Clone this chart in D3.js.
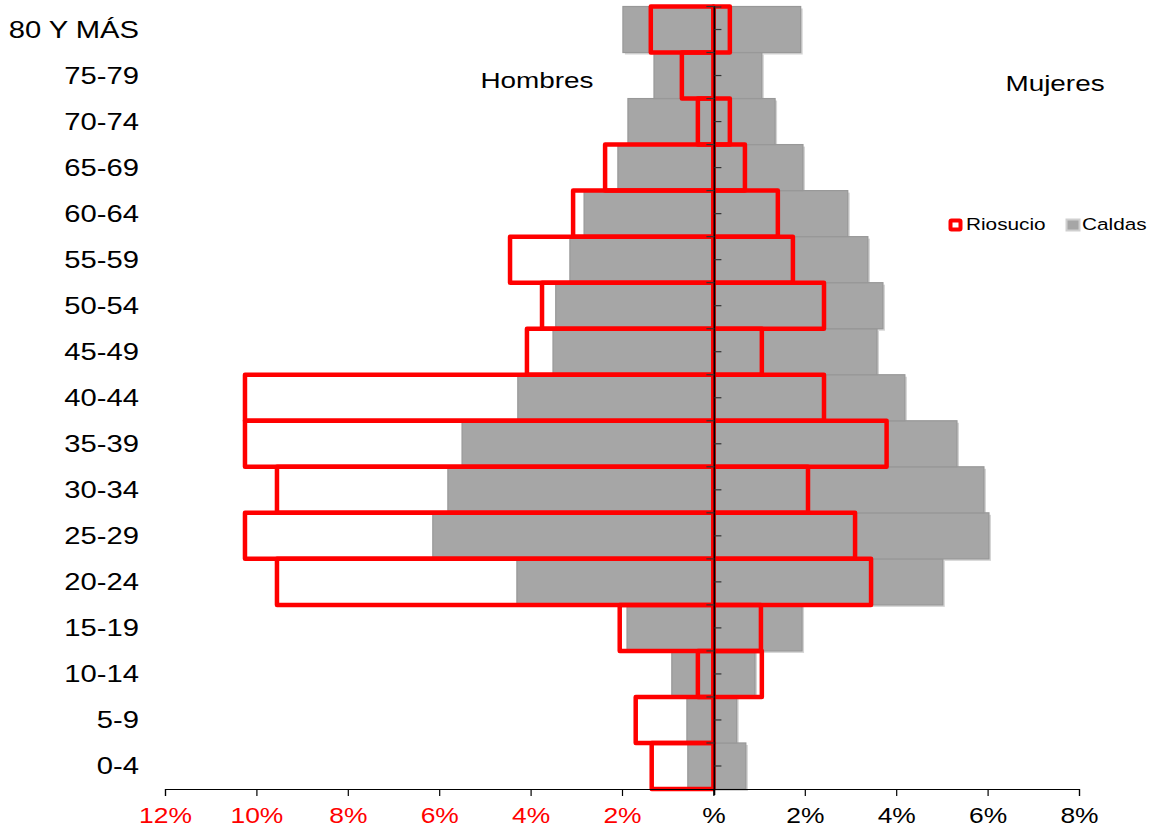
<!DOCTYPE html>
<html>
<head>
<meta charset="utf-8">
<script src="https://cdn.jsdelivr.net/npm/d3@7"></script>
<style>
  body { margin: 0; background: #fff; }
  text { font-family: "Liberation Sans", Arial, sans-serif; }
</style>
</head>
<body>
<div id="chart"></div>
<script>
// age groups, youngest first
var ages = ["0-4", "5-9", "10-14", "15-19", "20-24", "25-29", "30-34", "35-39", "40-44",
            "45-49", "50-54", "55-59", "60-64", "65-69", "70-74", "75-79", "80 Y MÁS"];

// percentages
var caldasHombres   = [0.56, 0.58, 0.91, 1.89, 4.30, 6.14, 5.81, 5.50, 4.28, 3.51, 3.45, 3.14, 2.83, 2.09, 1.87, 1.30, 1.98];
var caldasMujeres   = [0.71, 0.51, 0.91, 1.94, 5.02, 6.03, 5.92, 5.33, 4.19, 3.58, 3.71, 3.38, 2.94, 1.96, 1.35, 1.06, 1.91];
var riosucioHombres = [1.35, 1.70, 0.34, 2.05, 9.55, 10.25, 9.55, 10.25, 10.25, 4.08, 3.75, 4.45, 3.07, 2.37, 0.34, 0.69, 1.37];
var riosucioMujeres = [0, 0, 1.06, 1.04, 3.45, 3.10, 2.07, 3.79, 2.42, 1.06, 2.42, 1.74, 1.41, 0.69, 0.36, 0, 0.36];

var xTicks = [-12, -10, -8, -6, -4, -2, 0, 2, 4, 6, 8];
var legendNames = ["Riosucio", "Caldas"];

var W = 1155, H = 827;
var stretch = 1.24; // the source image is wider than its fonts

var svg = d3.select("#chart").append("svg")
    .attr("width", W)
    .attr("height", H);

var x = d3.scaleLinear().domain([-12, 8]).range([165, 1079]);
var y = d3.scaleBand().domain(ages.slice().reverse()).range([6.5, 789]).padding(0);

var rows = ages.map(function(a, i) {
    return {age: a, ch: caldasHombres[i], cm: caldasMujeres[i], rh: riosucioHombres[i], rm: riosucioMujeres[i]};
});

// gray Caldas bars with a soft shadow
var grayBars = [];
rows.forEach(function(d) {
    grayBars.push({age: d.age, from: -d.ch, to: 0});
    grayBars.push({age: d.age, from: 0, to: d.cm});
});

svg.append("g").selectAll("rect")
    .data(grayBars)
    .enter().append("rect")
    .attr("x", function(d) { return x(d.from) + 2; })
    .attr("y", function(d) { return y(d.age) + 2; })
    .attr("width", function(d) { return x(d.to) - x(d.from); })
    .attr("height", y.bandwidth())
    .attr("fill", "#d4d4d4");

svg.append("g").selectAll("rect")
    .data(grayBars)
    .enter().append("rect")
    .attr("x", function(d) { return x(d.from); })
    .attr("y", function(d) { return y(d.age); })
    .attr("width", function(d) { return x(d.to) - x(d.from); })
    .attr("height", y.bandwidth())
    .attr("fill", "#a6a6a6")
    .attr("stroke", "#989898")
    .attr("stroke-width", 1.2);

// red Riosucio outlines
var redBars = [];
rows.forEach(function(d) {
    redBars.push({age: d.age, from: -d.rh, to: 0});
    redBars.push({age: d.age, from: 0, to: d.rm});
});

svg.append("g").selectAll("rect")
    .data(redBars)
    .enter().append("rect")
    .attr("x", function(d) { return x(d.from); })
    .attr("y", function(d) { return y(d.age); })
    .attr("width", function(d) { return x(d.to) - x(d.from); })
    .attr("height", y.bandwidth())
    .attr("fill", "none")
    .attr("stroke", "#ff0000")
    .attr("stroke-width", 4.5)
    .attr("stroke-linejoin", "round");

// central axis with small ticks
var cx = x(0) + 1;
var center = svg.append("g");
center.append("line")
    .attr("x1", cx).attr("x2", cx)
    .attr("y1", 6).attr("y2", 795)
    .attr("stroke", "#000").attr("stroke-width", 1.8);
center.selectAll(".bnd")
    .data(ages)
    .enter().append("line")
    .attr("x1", cx - 8).attr("x2", cx)
    .attr("y1", function(d) { return y(d); })
    .attr("y2", function(d) { return y(d); })
    .attr("stroke", "#333").attr("stroke-width", 1.2);
center.selectAll(".mid")
    .data(ages)
    .enter().append("line")
    .attr("x1", cx).attr("x2", cx + 7)
    .attr("y1", function(d) { return y(d) + y.bandwidth() / 2; })
    .attr("y2", function(d) { return y(d) + y.bandwidth() / 2; })
    .attr("stroke", "#333").attr("stroke-width", 1.2);
center.append("line")
    .attr("x1", cx).attr("x2", cx + 7)
    .attr("y1", 7).attr("y2", 7)
    .attr("stroke", "#333").attr("stroke-width", 1.2);

// bottom axis
var xAxis = svg.append("g")
    .attr("transform", "translate(0,789)")
    .call(d3.axisBottom(x)
        .tickValues(xTicks)
        .tickSize(7)
        .tickFormat(function(d) { return d === 0 ? "%" : Math.abs(d) + "%"; }));
xAxis.select(".domain").attr("stroke", "#000").attr("stroke-width", 1.2);
xAxis.selectAll(".tick line").attr("stroke", "#000").attr("stroke-width", 1.2);
xAxis.selectAll(".tick text")
    .attr("y", 34)
    .attr("dy", 0)
    .attr("font-size", 22)
    .attr("font-family", "Liberation Sans, Arial, sans-serif")
    .attr("transform", "scale(1.2,1)")
    .attr("fill", function(d) { return d < 0 ? "#ff0000" : "#000"; });

// age labels
svg.append("g").selectAll("text")
    .data(ages)
    .enter().append("text")
    .attr("transform", function(d) {
        return "translate(139," + (y(d) + y.bandwidth() / 2 + 8) + ") scale(1.27,1)";
    })
    .attr("text-anchor", "end")
    .attr("font-size", 23)
    .attr("fill", "#000")
    .text(function(d) { return d; });

// side titles
svg.append("text")
    .attr("transform", "translate(537,88) scale(" + stretch + ",1)")
    .attr("text-anchor", "middle")
    .attr("font-size", 22.5)
    .text("Hombres");
svg.append("text")
    .attr("transform", "translate(1055,91) scale(" + stretch + ",1)")
    .attr("text-anchor", "middle")
    .attr("font-size", 22.5)
    .text("Mujeres");

// legend
var legend = svg.append("g");
legend.append("rect")
    .attr("x", 950.5).attr("y", 220.5).attr("width", 10).attr("height", 9)
    .attr("rx", 1)
    .attr("fill", "#fff").attr("stroke", "#ff0000").attr("stroke-width", 4);
legend.append("rect")
    .attr("x", 1066.5).attr("y", 219.5).attr("width", 13).attr("height", 11)
    .attr("fill", "#a6a6a6").attr("stroke", "#cfcfcf").attr("stroke-width", 2);
legend.selectAll("text")
    .data(legendNames)
    .enter().append("text")
    .attr("transform", function(d, i) {
        return "translate(" + (i === 0 ? 966 : 1082) + ",230) scale(1.26,1)";
    })
    .attr("font-size", 16.5)
    .text(function(d) { return d; });
</script>
</body>
</html>
